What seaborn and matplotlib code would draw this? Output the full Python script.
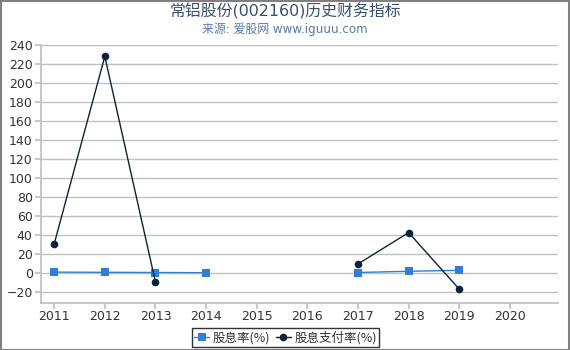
import matplotlib
matplotlib.use("Agg")
import matplotlib.pyplot as plt
import seaborn as sns
import numpy as np
import pandas as pd

years = [2011, 2012, 2013, 2014, 2015, 2016, 2017, 2018, 2019, 2020]
dividend_yield = [0.9, 0.7, 0.5, 0.3, None, None, 0.5, 1.8, 2.8, None]
payout_ratio = [30.5, 228, -9.5, None, None, None, 9.5, 42.5, -17, None]
yticks = list(range(-20, 241, 20))

title = "常铝股份(002160)历史财务指标"
subtitle = "来源: 爱股网 www.iguuu.com"
label_yield = "股息率(%)"
label_payout = "股息支付率(%)"

sns.set_theme(style="white")
plt.rcParams['font.family'] = ['DejaVu Sans', 'Noto Sans CJK SC']


def segments(values):
    seg, ids, prev = 0, [], False
    for v in values:
        if v is None:
            if prev:
                seg += 1
            prev = False
            ids.append(-1)
        else:
            prev = True
            ids.append(seg)
    return ids


def frame(values):
    d = pd.DataFrame({"year": years,
                      "v": [np.nan if v is None else v for v in values],
                      "seg": segments(values)})
    return d.dropna()


fig = plt.figure(figsize=(5.7, 3.5), dpi=100)
ax = fig.add_axes([41/570, 1 - 303/350, (558-41)/570, (303-45)/350])

c_yield = "#2f7ed8"
c_pay = "#0d233a"

sns.lineplot(data=frame(dividend_yield), x="year", y="v", units="seg", estimator=None,
             ax=ax, color=c_yield, marker="s", markersize=5.5, linewidth=1,
             markeredgewidth=0, label=label_yield)
sns.lineplot(data=frame(payout_ratio), x="year", y="v", units="seg", estimator=None,
             ax=ax, color=c_pay, marker="o", markersize=5.5, linewidth=1,
             markeredgewidth=0, label=label_payout)

ax.set_xlim(2010.74, 2020.95)
ax.set_ylim(-31.6, 240)
ax.set_yticks(yticks)
ax.set_xticks(years)
ax.set_xticklabels([str(y) for y in years])
ax.grid(axis="y", color="#c0c0c0", linewidth=1)
ax.set_axisbelow(True)
ax.set_xlabel("")
ax.set_ylabel("")
for s in ["top", "right"]:
    ax.spines[s].set_visible(False)
ax.spines["left"].set_color("#c0c0c0")
ax.spines["bottom"].set_color("#c0c0c0")
ax.tick_params(axis="x", bottom=True, length=4, color="#c0c0c0", labelsize=9,
               labelcolor="#333333", pad=1)
ax.tick_params(axis="y", left=True, length=4, color="#c0c0c0", labelsize=9,
               labelcolor="#333333", pad=2)

handles, labels = ax.get_legend_handles_labels()
uh, ul = [], []
for h, l in zip(handles, labels):
    if l not in ul:
        uh.append(h)
        ul.append(l)
leg = ax.legend(uh, ul, loc="center", bbox_to_anchor=(285.5/570, 1 - 337.5/350),
                bbox_transform=fig.transFigure, ncol=2, frameon=True,
                prop={"family": ["Noto Sans CJK SC", "DejaVu Sans"], "size": 9},
                handlelength=1.2, handletextpad=0.3,
                columnspacing=0.4, borderpad=0.2, fancybox=False)
leg.get_frame().set_edgecolor("black")
leg.get_frame().set_linewidth(1)
for t in leg.get_texts():
    t.set_color("#333333")

fig.text(0.5, 1 - 11/350, title, ha="center", va="center", fontsize=11.4,
         color="#3a4f6b")
fig.text(0.5, 1 - 29/350, subtitle, ha="center", va="center", fontsize=8.6,
         color="#5b7aa3")

border = plt.Rectangle((0.5/570, 0.5/350), 568/570, 349/350, transform=fig.transFigure,
                       fill=False, edgecolor="#808080", linewidth=1.5)
fig.patches.append(border)

fig.savefig("out.png", dpi=100)
